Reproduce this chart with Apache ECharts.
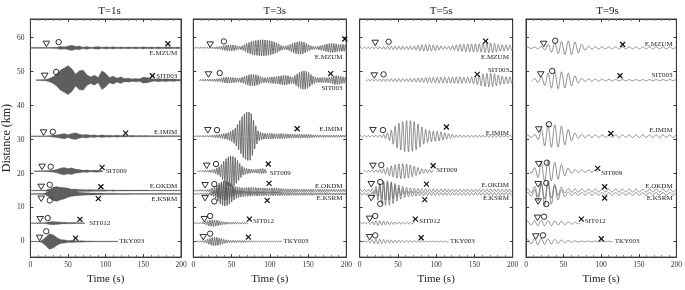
<!DOCTYPE html>
<html>
<head>
<meta charset="utf-8">
<script src="https://cdn.jsdelivr.net/npm/echarts@6/dist/echarts.min.js"></script>
<style>html,body{margin:0;padding:0;background:#fff}#chart{width:685px;height:290px}</style>
</head>
<body>
<div id="chart"></div>
<script>
// periods of the four panels (s)
const periods = [1, 3, 5, 9]
const stations = ['E.MZUM', 'SIT003', 'E.IMIM', 'SIT009', 'E.OKDM', 'E.KSRM', 'SIT012', 'TKY003']
const distances = [57, 47.5, 31, 20.7, 15, 14, 5.4, 0]
const traceStart = [0, 8, 0, 5, 0, 0, 1, 0]
const traceEnd = [200, 200, 200, 96, 200, 200, 72, 116]
const yTicks = [0, 10, 20, 30, 40, 50, 60]

// envelope amplitude (km) read every 5 s from t = 0
const envStep = 5
const envT1 = [
  [0.08,0.08,0.08,0.08,0.08,0.1,0.15,0.2,0.5,0.3,0.55,0.8,0.45,0.55,0.2,0.45,0.15,0.3,0.4,0.15,0.35,0.2,0.35,0.15,0.3,0.15,0.3,0.15,0.3,0.15,0.35,0.15,0.3,0.15,0.3,0.15,0.25,0.3,0.15,0.25,0.15],
  [0,0.08,0.1,0.15,0.2,0.5,1.0,1.8,3.0,3.6,4.3,3.4,1.8,2.8,3.0,1.6,1.0,1.5,0.8,2.8,2.0,0.8,1.2,0.6,1.0,0.5,0.6,0.4,0.5,0.4,0.9,0.8,0.5,0.3,0.5,0.3,0.45,0.3,0.4,0.25,0.3],
  [0.08,0.08,0.08,0.08,0.08,0.12,0.3,0.4,0.6,0.8,0.45,0.8,1.0,0.6,0.4,0.55,0.3,0.4,0.2,0.4,0.25,0.3,0.2,0.3,0.2,0.25,0.15,0.25,0.15,0.2,0.15,0.2,0.12,0.15,0.12,0.15,0.12,0.12,0.1,0.1,0.1],
  [0,0.08,0.08,0.1,0.15,0.2,0.3,0.5,0.9,1.1,0.8,1.0,0.6,0.5,0.3,0.4,0.2,0.3,0.3,0.2,0.1],
  [0.08,0.08,0.08,0.08,0.15,0.4,0.8,1.0,1.0,0.9,0.7,0.4,0.45,0.3,0.3,0.25,0.3,0.2,0.25,0.2,0.2,0.15,0.2,0.15,0.15,0.15,0.15,0.12,0.12,0.12,0.12,0.12,0.1,0.1,0.1,0.1,0.1,0.1,0.1,0.1,0.1],
  [0.08,0.08,0.08,0.1,0.3,1.0,2.0,2.2,1.8,1.5,1.0,0.7,0.6,0.5,0.4,0.35,0.3,0.3,0.25,0.25,0.2,0.2,0.2,0.15,0.15,0.15,0.15,0.12,0.12,0.12,0.12,0.12,0.1,0.1,0.1,0.1,0.1,0.1,0.1,0.1,0.1],
  [0.05,0.05,0.08,0.1,0.15,0.4,0.5,0.4,0.3,0.25,0.2,0.15,0.15,0.1,0.1],
  [0.05,0.05,0.1,0.3,1.2,2.3,2.0,1.2,0.6,0.5,0.3,0.35,0.25,0.2,0.2,0.15,0.15,0.1,0.1,0.1,0.1,0.1,0.1,0.1]
]
const envT3 = [
  [0.1,0.1,0.15,0.15,0.15,0.2,0.3,0.4,0.7,0.9,0.9,0.8,0.4,0.7,1.4,1.9,2.2,2.4,2.5,2.4,2.2,1.9,1.4,0.7,0.5,0.8,1.4,1.8,2.0,1.7,1.0,0.5,0.4,0.6,0.9,1.2,1.4,1.3,1.0,1.1,0.9],
  [0,0,0.2,0.25,0.3,0.3,0.4,0.5,0.8,0.9,0.8,0.7,0.6,0.9,1.4,1.7,1.7,1.4,0.8,0.7,0.9,1.0,1.1,1.3,1.5,1.2,0.9,1.7,2.5,2.8,2.4,1.4,0.8,0.7,0.8,0.7,0.9,1.3,1.3,1.0,0.8],
  [0.15,0.15,0.15,0.2,0.2,0.3,0.4,0.5,0.8,1.0,1.6,2.5,4.5,6.5,7.5,7.4,4.0,1.5,1.0,0.8,0.9,0.8,0.7,0.8,0.7,0.6,0.6,0.5,0.6,0.5,0.6,0.4,0.35,0.3,0.35,0.3,0.3,0.3,0.3,0.3,0.3],
  [0,0.1,0.15,0.2,0.3,0.4,0.8,1.5,3.0,4.2,4.6,4.0,2.5,1.2,0.8,0.6,0.5,0.6,0.8,0.5],
  [0.15,0.15,0.15,0.2,0.3,0.8,1.5,2.5,3.0,2.8,2.0,1.2,1.0,0.8,0.9,1.0,0.9,0.8,0.8,0.7,0.7,0.8,0.7,0.6,0.5,0.5,0.5,0.4,0.4,0.4,0.4,0.4,0.35,0.4,0.35,0.3,0.35,0.3,0.3,0.3,0.3],
  [0.15,0.15,0.15,0.2,0.3,0.6,1.5,3.0,3.8,3.5,2.5,1.5,1.0,0.8,0.7,0.7,0.6,0.6,0.6,0.5,0.5,0.5,0.5,0.5,0.45,0.45,0.4,0.4,0.4,0.4,0.4,0.4,0.35,0.35,0.35,0.35,0.3,0.3,0.3,0.3,0.3],
  [0.1,0.1,0.15,0.3,0.8,1.0,0.9,0.6,0.4,0.3,0.25,0.25,0.2,0.2,0.15],
  [0.1,0.1,0.1,0.3,0.8,1.3,1.3,1.0,0.6,0.4,0.3,0.3,0.25,0.3,0.2,0.2,0.15,0.1,0.1,0.1,0.1,0.1,0.1,0.1]
]
const envT5 = [
  [0.2,0.2,0.2,0.25,0.3,0.3,0.35,0.4,0.5,0.5,0.5,0.5,0.45,0.5,0.5,0.7,0.9,1.0,1.0,0.9,0.8,0.6,0.4,0.4,0.6,0.8,1.0,1.1,1.2,1.2,1.2,1.2,1.3,1.4,1.5,1.4,1.1,0.9,0.9,0.8,0.7],
  [0,0.2,0.25,0.3,0.3,0.3,0.35,0.35,0.4,0.4,0.45,0.45,0.4,0.45,0.5,0.6,0.6,0.7,0.8,0.8,0.85,0.85,0.9,0.9,0.9,0.95,1.0,0.9,0.8,0.9,1.1,1.4,1.8,2.0,2.1,2.0,1.6,1.3,1.1,1.0,0.9],
  [0.2,0.2,0.2,0.2,0.25,0.3,0.4,0.8,1.5,2.8,3.8,4.4,4.8,4.8,4.6,4.0,3.0,2.2,1.8,1.6,1.5,1.4,1.1,0.8,0.6,0.4,0.35,0.3,0.3,0.3,0.3,0.3,0.3,0.3,0.3,0.3,0.3,0.3,0.3,0.3,0.3],
  [0,0.2,0.2,0.25,0.3,0.4,0.6,1.0,1.5,1.9,2.2,2.3,2.2,2.0,1.6,1.2,0.8,0.6,0.5,0.4],
  [0.3,0.3,0.3,0.4,1.0,2.0,2.8,3.0,2.8,2.3,1.8,1.3,1.0,0.8,0.7,0.6,0.6,0.5,0.5,0.5,0.45,0.45,0.45,0.45,0.4,0.4,0.4,0.4,0.4,0.4,0.4,0.4,0.4,0.4,0.4,0.4,0.4,0.4,0.4,0.4,0.4],
  [0.3,0.3,0.3,0.4,1.0,2.2,3.3,3.6,3.4,2.8,2.0,1.4,1.0,0.8,0.7,0.6,0.5,0.5,0.45,0.45,0.4,0.4,0.4,0.4,0.4,0.4,0.4,0.4,0.4,0.4,0.4,0.4,0.4,0.4,0.4,0.4,0.4,0.4,0.4,0.4,0.4],
  [0.15,0.15,0.2,0.4,0.6,0.7,0.6,0.5,0.4,0.35,0.3,0.3,0.25,0.2,0.2],
  [0.15,0.15,0.2,0.5,0.7,0.7,0.6,0.5,0.5,0.4,0.35,0.3,0.3,0.3,0.25,0.25,0.2,0.15,0.1,0.1,0.1,0.1,0.1,0.1]
]
const envT9 = [
  [0.2,0.2,0.2,0.3,0.4,0.6,1.0,1.4,1.6,1.8,2.0,2.0,2.0,1.8,1.5,1.0,0.6,0.4,0.35,0.3,0.3,0.3,0.3,0.3,0.3,0.3,0.3,0.3,0.3,0.3,0.3,0.3,0.3,0.3,0.3,0.3,0.3,0.3,0.3,0.3,0.3],
  [0,0.3,0.4,0.6,1.0,1.6,2.2,2.5,2.6,2.6,2.4,2.2,1.8,1.3,0.8,0.5,0.35,0.3,0.3,0.3,0.3,0.25,0.25,0.25,0.2,0.15,0.15,0.15,0.15,0.15,0.15,0.15,0.15,0.15,0.15,0.15,0.15,0.15,0.15,0.15,0.15],
  [0.3,0.3,0.4,0.8,2.0,3.0,3.3,3.4,3.4,3.2,2.8,2.2,1.5,0.9,0.6,0.5,0.45,0.4,0.4,0.4,0.4,0.4,0.4,0.4,0.4,0.4,0.4,0.4,0.4,0.4,0.4,0.4,0.4,0.4,0.4,0.4,0.4,0.4,0.4,0.4,0.4],
  [0,0.5,0.8,1.8,2.6,3.0,3.0,2.8,2.6,2.2,1.6,1.0,0.6,0.45,0.4,0.35,0.35,0.3,0.35,0.3],
  [0.4,0.5,1.0,1.8,2.4,2.6,2.5,2.2,1.7,1.2,0.8,0.6,0.5,0.45,0.45,0.45,0.45,0.45,0.45,0.45,0.45,0.45,0.45,0.45,0.45,0.45,0.45,0.45,0.45,0.45,0.45,0.45,0.45,0.45,0.45,0.45,0.45,0.45,0.45,0.45,0.45],
  [0.4,0.5,1.0,2.0,3.0,3.6,3.5,3.0,2.2,1.4,0.9,0.6,0.5,0.4,0.4,0.4,0.4,0.4,0.4,0.4,0.4,0.4,0.4,0.4,0.4,0.4,0.4,0.4,0.4,0.4,0.4,0.4,0.4,0.4,0.4,0.4,0.4,0.4,0.4,0.4,0.4],
  [0.5,0.6,0.7,0.8,0.8,0.8,0.7,0.7,0.6,0.6,0.5,0.4,0.3,0.25,0.2],
  [0.5,0.6,0.8,1.0,1.0,0.9,0.8,0.7,0.6,0.5,0.4,0.3,0.25,0.2,0.15,0.1,0.1,0.1,0.1,0.1,0.1,0.1,0.1,0.1]
]
const envelopes = [envT1, envT3, envT5, envT9]

// phase picks (s): triangle, circle, cross
const triT = [
  [21.3, 19.0, 17.5, 15.5, 14.4, 14.4, 13.0, 12.2],
  [22, 19.8, 19, 17.6, 15.4, 15.4, 14.5, 13],
  [20.3, 19, 17.3, 17.3, 15.1, 15.1, 12.9, 12.9],
  [23.5, 19.6, 17, 17, 16.1, 16.1, 15.3, 13]
]
const circT = [
  [37.5, 34.2, 29.8, 27, 25.7, 25.7, 23, 21],
  [40, 34.5, 31, 29.7, 27.4, 27.4, 22, 22],
  [37.8, 31.2, 30.4, 28.2, 26.9, 26.9, 20.3, 20.3],
  [38.8, 34.9, 30.5, 27.8, 27, 27, 24, 22.6]
]
const crossT = [
  [182.6, 162, 126.5, 95.2, 93.6, 90.2, 65.8, 60],
  [198, 179.5, 135.8, 98, 99, 96.6, 73.3, 72],
  [164.6, 153.7, 113.4, 96, 87.2, 85, 72.8, 80.3],
  [128.5, 125, 112.8, 95.4, 104.6, 104.6, 73.6, 100.2]
]
// marker heights above (below) the trace, km
const triOff = [
  [1.2, 1.3, 1.1, 1.3, 1.1, -1.4, 1.2, 1.1],
  [1.0, 1.7, 1.8, 1.6, 1.6, -1.2, 1.2, 1.3],
  [1.5, 1.4, 1.8, 1.6, 1.9, -1.2, 1.3, 1.3],
  [1.2, 1.7, 2.0, 2.1, 1.9, -2.2, 1.6, 1.5]
]
const circOff = [
  [1.7, 2.4, 1.3, 1.3, 1.7, -1.9, 1.5, 3.0],
  [1.9, 2.1, 1.8, 2.1, 1.9, -2.2, 2.1, 2.3],
  [1.8, 1.7, 1.8, 1.8, 2.5, -2.9, 2.1, 1.8],
  [2.1, 2.7, 3.5, 2.5, 2.2, -3.0, 1.9, 1.8]
]
const crossOff = [
  [1.2, 1.3, 0.9, 1.1, 1.1, -1.4, 1.1, 1.0],
  [2.6, 1.9, 2.2, 2.1, 2.1, -1.9, 1.2, 1.3],
  [2.0, 1.7, 2.7, 1.6, 1.9, -1.7, 1.2, 1.1],
  [1.0, 1.3, 0.8, 0.8, 1.1, -1.2, 1.2, 0.8]
]
// station name placement: after trace end (t) or right-aligned at panel edge
const labelEndT = [null, null, null, 100, null, null, 78, 118]
const labelOff = [
  [-1.7, 1.3, 1.3, 0, 1.4, -1.4, -0.1, 0],
  [-2.8, -2.3, 2.2, -0.6, 1.3, -1.1, 0.6, 0.2],
  [-2.8, 2.9, 1.0, 0.2, 1.6, -1.1, 0.6, 0],
  [1.2, 1.6, 1.8, -0.6, 1.3, -1.1, 0.7, 0.2]
]

const FONT = '"Liberation Serif", "Times New Roman", serif'
const gridLeft = [28, 193.3, 359.7, 526]
const gridW = 153
const gridTop = 19
const gridH = 245
const yMin = -4.6
const yMax = 65.5

function envAt(arr, t) {
  const f = t / envStep
  const i = Math.floor(f)
  if (i >= arr.length - 1) return arr[arr.length - 1] || 0
  const r = f - i
  return arr[i] * (1 - r) + arr[i + 1] * r
}

function makeRender(p) {
  const T = periods[p]
  const env = envelopes[p]
  return function (params, api) {
    const i = api.value(0)
    const base = distances[i]
    const a = env[i]
    const t0 = traceStart[i]
    const t1 = traceEnd[i]
    const children = []
    if (T === 1) {
      // dense 1 s oscillations read as a filled band
      const top = []
      const bot = []
      for (let t = t0; t <= t1 + 1e-6; t += 0.5) {
        const e = envAt(a, t)
        top.push(api.coord([t, base + e]))
        bot.push(api.coord([t, base - e]))
      }
      const s = api.coord([t0, base])
      const e1 = api.coord([t1, base])
      children.push({
        type: 'line',
        shape: { x1: s[0], y1: s[1], x2: e1[0], y2: e1[1] },
        style: { stroke: '#8a8a8a', lineWidth: 0.8 }
      })
      children.push({
        type: 'polygon',
        shape: { points: top.concat(bot.reverse()) },
        style: { fill: '#5e5e5e', stroke: '#707070', lineWidth: 0.3 }
      })
    } else {
      const pts = []
      const dt = T / 10
      for (let t = t0; t <= t1 + 1e-6; t += dt) {
        const e = envAt(a, t)
        pts.push(api.coord([t, base + e * Math.sin(2 * Math.PI * t / T)]))
      }
      children.push({
        type: 'polyline',
        shape: { points: pts },
        style: { stroke: T === 3 ? '#555' : '#666', lineWidth: T === 3 ? 0.8 : 0.7, fill: null }
      })
    }
    const ct = api.coord([triT[p][i], base + triOff[p][i]])
    children.push({
      type: 'polygon',
      shape: { points: [[ct[0] - 3.3, ct[1] - 2.6], [ct[0] + 3.3, ct[1] - 2.6], [ct[0], ct[1] + 2.9]] },
      style: { fill: 'rgba(255,255,255,0)', stroke: '#1a1a1a', lineWidth: 0.9 }
    })
    const cc = api.coord([circT[p][i], base + circOff[p][i]])
    children.push({
      type: 'circle',
      shape: { cx: cc[0], cy: cc[1], r: 2.7 },
      style: { fill: 'rgba(255,255,255,0)', stroke: '#1a1a1a', lineWidth: 0.9 }
    })
    const cx = api.coord([crossT[p][i], base + crossOff[p][i]])
    children.push({
      type: 'line',
      shape: { x1: cx[0] - 2.5, y1: cx[1] - 2.5, x2: cx[0] + 2.5, y2: cx[1] + 2.5 },
      style: { stroke: '#111', lineWidth: 1.2 }
    })
    children.push({
      type: 'line',
      shape: { x1: cx[0] - 2.5, y1: cx[1] + 2.5, x2: cx[0] + 2.5, y2: cx[1] - 2.5 },
      style: { stroke: '#111', lineWidth: 1.2 }
    })
    const endT = labelEndT[i]
    const lp = api.coord([endT === null ? 195 : endT, base + labelOff[p][i]])
    children.push({
      type: 'text',
      style: {
        text: stations[i],
        x: lp[0],
        y: lp[1],
        font: '7px ' + FONT,
        fill: '#222',
        align: endT === null ? 'right' : 'left',
        verticalAlign: 'middle'
      }
    })
    return { type: 'group', children: children }
  }
}

const chart = echarts.init(document.getElementById('chart'), null, { renderer: 'canvas' })

const grids = []
const xAxes = []
const yAxes = []
const titles = []
const series = []
const axisColor = '#3a3a3a'

periods.forEach((T, p) => {
  grids.push({ left: gridLeft[p], top: gridTop, width: gridW, height: gridH, show: true, borderColor: axisColor, borderWidth: 1 })
  titles.push({
    text: 'T=' + T + 's',
    left: gridLeft[p] + gridW / 2,
    top: 1,
    textAlign: 'center',
    textStyle: { fontFamily: FONT, fontSize: 11, fontWeight: 'normal', color: '#222' }
  })
  const xBase = {
    gridIndex: p, type: 'value', min: 0, max: 200, interval: 50,
    axisLine: { show: true, onZero: false, lineStyle: { color: axisColor, width: 1 } },
    axisTick: { show: true, inside: true, length: 3, lineStyle: { color: axisColor } },
    minorTick: { show: true, splitNumber: 5, length: 2, lineStyle: { color: '#777' } },
    splitLine: { show: false }
  }
  xAxes.push(Object.assign({}, xBase, {
    position: 'bottom',
    axisLabel: { fontFamily: FONT, fontSize: 7.5, color: '#333', margin: 4 },
    name: 'Time (s)', nameLocation: 'middle', nameGap: 16,
    nameTextStyle: { fontFamily: FONT, fontSize: 11, color: '#222' }
  }))
  xAxes.push(Object.assign({}, xBase, { position: 'top', axisLabel: { show: false } }))
  const yBase = {
    gridIndex: p, type: 'value', min: yMin, max: yMax,
    axisLine: { show: true, onZero: false, lineStyle: { color: axisColor, width: 1 } },
    axisTick: { show: true, inside: true, length: 3, customValues: yTicks, lineStyle: { color: axisColor } },
    splitLine: { show: false }
  }
  yAxes.push(Object.assign({}, yBase, {
    position: 'left',
    axisLabel: { show: p === 0, customValues: yTicks, fontFamily: FONT, fontSize: 7.5, color: '#333', margin: 6 },
    name: p === 0 ? 'Distance (km)' : '', nameLocation: 'middle', nameGap: 14,
    nameTextStyle: { fontFamily: FONT, fontSize: 12, color: '#222' }
  }))
  yAxes.push(Object.assign({}, yBase, { position: 'right', axisLabel: { show: false } }))
  series.push({
    type: 'custom',
    xAxisIndex: p * 2,
    yAxisIndex: p * 2,
    coordinateSystem: 'cartesian2d',
    clip: false,
    silent: true,
    renderItem: makeRender(p),
    data: stations.map((s, i) => [i, distances[i]])
  })
})

chart.setOption({
  animation: false,
  backgroundColor: '#fff',
  title: titles,
  grid: grids,
  xAxis: xAxes,
  yAxis: yAxes,
  series: series
})
</script>
</body>
</html>
